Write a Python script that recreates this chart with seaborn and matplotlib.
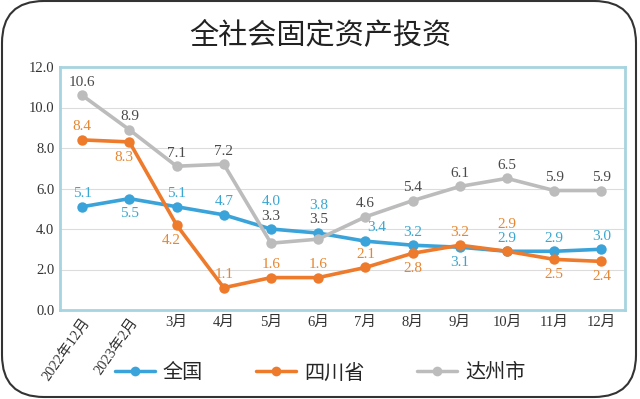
import pandas as pd
import seaborn as sns
import matplotlib.pyplot as plt
from matplotlib.patches import FancyBboxPatch

months = ['2022年12月', '2023年2月', '3月', '4月', '5月', '6月',
          '7月', '8月', '9月', '10月', '11月', '12月']
national = [5.1, 5.5, 5.1, 4.7, 4.0, 3.8, 3.4, 3.2, 3.1, 2.9, 2.9, 3.0]
sichuan = [8.4, 8.3, 4.2, 1.1, 1.6, 1.6, 2.1, 2.8, 3.2, 2.9, 2.5, 2.4]
dazhou = [10.6, 8.9, 7.1, 7.2, 3.3, 3.5, 4.6, 5.4, 6.1, 6.5, 5.9, 5.9]
series_names = ['全国', '四川省', '达州市']

# vertical offset of each value label (points, label centre vs marker)
up, dn, hi = 9.5, -11, 19.5
off_national = [up, dn, up, up, hi, hi, up, up, dn, up, up, up]
off_sichuan = [up, dn, dn, up, up, up, up, dn, up, hi, dn, dn]
off_dazhou = [up, up, up, up, hi, 14, up, up, up, up, up, up]

colors = {'全国': '#3aa3da', '四川省': '#ee7a2c', '达州市': '#bcbcbc'}
text_colors = {'全国': '#3ba6cf', '四川省': '#e8862f', '达州市': '#4a4a4a'}

sns.set_style('white')
plt.rcParams['font.family'] = ['Noto Sans CJK SC', 'DejaVu Sans']

rows = []
for name, vals in zip(series_names, [national, sichuan, dazhou]):
    for i, v in enumerate(vals):
        rows.append({'idx': i, 'value': v, 'series': name})
df = pd.DataFrame(rows)

fig = plt.figure(figsize=(6.4, 3.99), dpi=100)
ax = fig.add_axes([60 / 640, 1 - 310 / 399, 565 / 640, 243 / 399])

sns.lineplot(data=df, x='idx', y='value', hue='series', hue_order=series_names,
             palette=colors, marker='o', markersize=7.5, markeredgewidth=0,
             linewidth=2.6, ax=ax, legend=False, zorder=3)

serif = ['Liberation Serif', 'Noto Sans CJK SC']
for name, vals, offs in [('达州市', dazhou, off_dazhou),
                         ('全国', national, off_national),
                         ('四川省', sichuan, off_sichuan)]:
    for i, (v, o) in enumerate(zip(vals, offs)):
        dx = 0
        if name == '四川省' and i in (1, 2):
            dx = -4
        if name == '全国' and i == 6:
            dx = 8
        ax.annotate(f'{v:.1f}', (i, v), xytext=(dx, o), textcoords='offset points',
                    ha='center', va='center', fontsize=11, color=text_colors[name],
                    family=serif, zorder=6)

ax.set_ylim(0, 12)
ax.set_xlim(-0.47, 11.5)
ax.set_yticks(range(0, 13, 2))
ax.set_yticklabels([f'{t:.1f}' for t in range(0, 13, 2)], family=serif,
                   fontsize=10.5, color='#333333')
ax.set_xticks(range(len(months)))
ax.set_xticklabels(months, family=serif, fontsize=10.5, color='#333333')
for i, lab in enumerate(ax.get_xticklabels()):
    if i < 2:
        lab.set_rotation(55)
        lab.set_ha('right')
        lab.set_va('top')
        lab.set_rotation_mode('anchor')
ax.tick_params(length=0, pad=4)
ax.set_xlabel('')
ax.set_ylabel('')
ax.grid(axis='y', color='#dcdcdc', linewidth=0.8)
ax.set_axisbelow(True)
for s in ax.spines.values():
    s.set_visible(True)
    s.set_color('#a6d4e0')
    s.set_linewidth(2)

fig.text(0.5, 1 - 35 / 399, '全社会固定资产投资', ha='center', va='center',
         fontsize=21, color='#222222')

handles = [plt.Line2D([], [], color=colors[n], marker='o', markersize=7,
                      linewidth=2.5, markeredgewidth=0) for n in series_names]
fig.legend(handles, series_names, loc='center', bbox_to_anchor=(0.5, 1 - 373 / 399),
           ncol=3, frameon=False, fontsize=14.5, handlelength=2.0,
           columnspacing=2.6, handletextpad=0.4)

fig.patches.append(FancyBboxPatch((0.02, 0.02), 6.34, 3.96,
                                  boxstyle='round,pad=0,rounding_size=0.42',
                                  transform=fig.dpi_scale_trans, fill=False,
                                  edgecolor='#333333', linewidth=1.5))

fig.savefig('out.png', dpi=100)
